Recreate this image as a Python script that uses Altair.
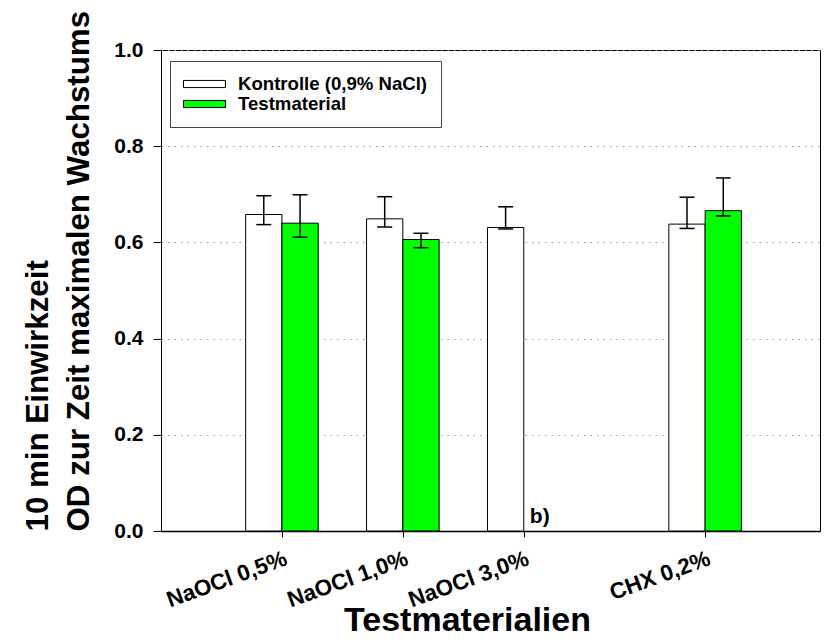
import altair as alt
import pandas as pd

# ---- data ----
categories = ["NaOCl 0,5%", "NaOCl 1,0%", "NaOCl 3,0%", "CHX 0,2%"]
positions = [1, 2, 3, 4.5]
series = ["Kontrolle (0,9% NaCl)", "Testmaterial"]

kontrolle_mean = [0.658, 0.649, 0.631, 0.638]
kontrolle_lo = [0.637, 0.632, 0.628, 0.629]
kontrolle_hi = [0.697, 0.695, 0.674, 0.694]

test_mean = [0.640, 0.606, None, 0.666]
test_lo = [0.611, 0.589, None, 0.655]
test_hi = [0.699, 0.619, None, 0.734]

annotation_text = ["b)"]
annotation_x = [3.05]
annotation_y = [0.016]

y_ticks = [0.0, 0.2, 0.4, 0.6, 0.8, 1.0]

FONT = "Liberation Sans"
BAR_W = 0.3
CAP_HALF = 0.062

rows = []
for i, cat in enumerate(categories):
    for s, means, lo, hi, side in [
        (series[0], kontrolle_mean, kontrolle_lo, kontrolle_hi, -1),
        (series[1], test_mean, test_lo, test_hi, 1),
    ]:
        if means[i] is None:
            continue
        p = positions[i]
        x0 = p if side > 0 else p - BAR_W
        x1 = x0 + BAR_W
        xc = (x0 + x1) / 2
        rows.append(dict(cat=cat, series=s, x0=x0, x1=x1, xc=xc,
                         c0=xc - CAP_HALF, c1=xc + CAP_HALF,
                         mean=means[i], lo=lo[i], hi=hi[i]))
df = pd.DataFrame(rows)
ann = pd.DataFrame({"label": annotation_text, "x": annotation_x, "y": annotation_y})

label_expr = " : ".join(
    f"datum.value == {p} ? '{c}'" for p, c in zip(positions, categories)
) + " : ''"

xscale = alt.Scale(domain=[0, 5.45], nice=False, zero=False)
yscale = alt.Scale(domain=[0, 1], nice=False)

x_axis = alt.Axis(
    values=positions, labelExpr=label_expr, title="Testmaterialien",
    grid=False, tickSize=6, tickColor="black", domainColor="black", domainWidth=1.5,
    labelAngle=-20, labelAlign="right", labelBaseline="top", labelPadding=10,
    labelFont=FONT, labelFontSize=22.5, labelFontWeight="bold", labelColor="black",
    titleFont=FONT, titleFontSize=34, titleFontWeight="bold", titleColor="black",
    titleX=306, titleY=99, titleBaseline="alphabetic", titleAlign="center",
    labelOverlap=False, labelFlush=False,
)
y_axis = alt.Axis(
    values=y_ticks, format=".1f",
    title=["10 min Einwirkzeit", "OD zur Zeit maximalen Wachstums"],
    grid=True, gridColor="#999999", gridDash=[1.5, 5], gridWidth=1,
    tickSize=8, tickColor="black", domainColor="black",
    labelPadding=10, labelFont=FONT, labelFontSize=21, labelFontWeight="bold",
    labelColor="black",
    titleFont=FONT, titleFontSize=31.3, titleFontWeight="bold", titleColor="black",
    titleAnchor="start", titleLineHeight=41, titlePadding=18,
)

bars = alt.Chart(df).mark_bar(stroke="black", strokeWidth=1).encode(
    x=alt.X("x0:Q", scale=xscale, axis=x_axis),
    x2="x1:Q",
    y=alt.Y("mean:Q", scale=yscale, axis=y_axis),
    y2=alt.datum(0),
    fill=alt.Fill(
        "series:N",
        scale=alt.Scale(domain=series, range=["white", "#00ff00"]),
        title=None,
        legend=alt.Legend(
            orient="none", legendX=9, legendY=11, padding=13,
            strokeColor="#444444", fillColor="white",
            symbolType="M-1,-0.17H1V0.17H-1Z", symbolSize=1764,
            symbolStrokeColor="black", symbolStrokeWidth=1, symbolFillColor="white",
            clipHeight=20, rowPadding=0, labelOffset=12, labelLimit=400,
            labelFont=FONT, labelFontSize=18.6, labelFontWeight="bold", labelColor="black",
        ),
    ),
)

err = alt.Chart(df).mark_rule(color="black", strokeWidth=1.5).encode(
    x=alt.X("xc:Q", scale=xscale, axis=x_axis),
    y=alt.Y("lo:Q", scale=yscale, axis=y_axis),
    y2="hi:Q",
)
cap_hi = alt.Chart(df).mark_rule(color="black", strokeWidth=1.5).encode(
    x=alt.X("c0:Q", scale=xscale, axis=x_axis),
    x2="c1:Q",
    y=alt.Y("hi:Q", scale=yscale, axis=y_axis),
)
cap_lo = alt.Chart(df).mark_rule(color="black", strokeWidth=1.5).encode(
    x=alt.X("c0:Q", scale=xscale, axis=x_axis),
    x2="c1:Q",
    y=alt.Y("lo:Q", scale=yscale, axis=y_axis),
)
text = alt.Chart(ann).mark_text(
    align="left", baseline="alphabetic", font=FONT, fontSize=21,
    fontWeight="bold", color="black",
).encode(
    x=alt.X("x:Q", scale=xscale, axis=x_axis),
    y=alt.Y("y:Q", scale=yscale, axis=y_axis),
    text="label:N",
)

chart = alt.layer(bars, err, cap_hi, cap_lo, text).properties(
    width=659, height=481,
    autosize=alt.AutoSizeParams(type="none"),
    padding={"left": 153, "top": 42, "right": 1, "bottom": 105},
    background="white",
).configure_view(stroke="black", strokeWidth=1)

chart.save("out.html", embed_options={"renderer": "svg", "actions": False})
